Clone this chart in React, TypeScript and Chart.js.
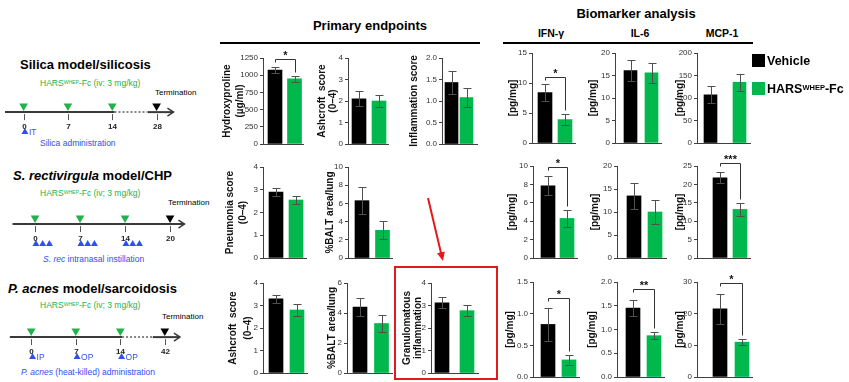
import React, { useEffect, useRef } from 'react';
import { Chart, registerables } from 'chart.js';
Chart.register(...registerables);

const FONT = '"Liberation Sans", Arial, Helvetica, sans-serif';
const VEHICLE_COLOR = '#000000';
const HARS_COLOR = '#00B84C';
const AXIS_COLOR = '#404040';
const TICK_COLOR = '#333333';
const ERR_COLOR = '#505050';
const TL_GREEN = '#22B24C';
const TL_BLUE = '#2F4FEF';
const RED = '#E3191C';

// ---------- groups ----------
const groups = ['Vehicle', 'HARS-WHEP-Fc'];

// ---------- Primary endpoints (mean, SEM) ----------
const hydroxyprolineSilica = [1075, 948];
const hydroxyprolineSilicaErr = [48, 45];
const hydroxyprolineSilicaSig = { label: '*', level: 1235 };

const ashcroftSilica = [2.1, 2.0];
const ashcroftSilicaErr = [0.35, 0.3];

const inflammationSilica = [1.43, 1.08];
const inflammationSilicaErr = [0.27, 0.22];

const pneumoniaChp = [2.9, 2.55];
const pneumoniaChpErr = [0.18, 0.18];

const baltChp = [6.3, 3.05];
const baltChpErr = [1.5, 1.0];

const ashcroftAcnes = [3.3, 2.8];
const ashcroftAcnesErr = [0.17, 0.25];

const baltAcnes = [4.4, 3.3];
const baltAcnesErr = [0.58, 0.57];

const granulomaAcnes = [3.12, 2.77];
const granulomaAcnesErr = [0.24, 0.24];

// ---------- Biomarkers (pg/mg) ----------
const ifnSilica = [8.4, 3.9];
const ifnSilicaErr = [1.4, 0.9];
const ifnSilicaSig = { label: '*', level: 11.05 };

const il6Silica = [16.1, 15.6];
const il6SilicaErr = [2.4, 2.2];

const mcpSilica = [107, 135];
const mcpSilicaErr = [19, 19];

const ifnChp = [7.85, 4.3];
const ifnChpErr = [1.05, 0.9];
const ifnChpSig = { label: '*', level: 9.9 };

const il6Chp = [13.5, 10.0];
const il6ChpErr = [2.8, 2.7];

const mcpChp = [21.8, 13.2];
const mcpChpErr = [1.5, 1.8];
const mcpChpSig = { label: '***', level: 25.7 };

const ifnAcnes = [0.83, 0.27];
const ifnAcnesErr = [0.26, 0.08];
const ifnAcnesSig = { label: '*', level: 1.24 };

const il6Acnes = [1.45, 0.87];
const il6AcnesErr = [0.17, 0.07];
const il6AcnesSig = { label: '**', level: 1.85 };

const mcpAcnes = [21.5, 11.0];
const mcpAcnesErr = [4.8, 0.9];
const mcpAcnesSig = { label: '*', level: 29.6 };

// ---------- Timelines ----------
const silicaDays = [0, 7, 14, 28];
const silicaTreatment = [0, 7, 14];
const silicaAdmin = [{ day: 0, label: 'IT' }];

const chpDays = [0, 7, 14, 20];
const chpTreatment = [0, 7, 14];
const chpAdmin = [0, 7, 14];

const acnesDays = [0, 7, 14, 42];
const acnesTreatment = [0, 7, 14];
const acnesAdmin = [
  { day: 0, label: 'IP' },
  { day: 7, label: 'OP' },
  { day: 14, label: 'OP' },
];

// ---------- panel definitions (data + layout) ----------
const panels = [
  { title: ['Hydroxyproline', '(µg/ml)'], values: hydroxyprolineSilica, errors: hydroxyprolineSilicaErr, yMax: 1250, yStep: 250, dec: 0, sig: hydroxyprolineSilicaSig,
    geo: { axisX: 263, axisEnd: 303, c1: 275, c2: 294.5, bw: 14, top: 58, bottom: 144, t1: 227, lh: 13 } },
  { title: ['Ashcroft  score', '(0–4)'], values: ashcroftSilica, errors: ashcroftSilicaErr, yMax: 4, yStep: 1, dec: 0,
    geo: { axisX: 348, axisEnd: 388, c1: 359, c2: 379, bw: 14, top: 58, bottom: 144, t1: 322, lh: 11 } },
  { title: ['Inflammation score'], values: inflammationSilica, errors: inflammationSilicaErr, yMax: 2, yStep: 0.5, dec: 1,
    geo: { axisX: 442, axisEnd: 477, c1: 451.5, c2: 466.5, bw: 13, top: 58, bottom: 144, t1: 414, lh: 12 } },
  { title: ['Pneumonia score', '(0–4)'], values: pneumoniaChp, errors: pneumoniaChpErr, yMax: 4, yStep: 1, dec: 0,
    geo: { axisX: 263, axisEnd: 306, c1: 276, c2: 296, bw: 14, top: 167, bottom: 258, t1: 230, lh: 13 } },
  { title: ['%BALT area/lung'], values: baltChp, errors: baltChpErr, yMax: 10, yStep: 2, dec: 0,
    geo: { axisX: 348, axisEnd: 392, c1: 362, c2: 382.5, bw: 14, top: 167, bottom: 258, t1: 330, lh: 12 } },
  { title: ['Ashcroft  score', '(0–4)'], values: ashcroftAcnes, errors: ashcroftAcnesErr, yMax: 4, yStep: 1, dec: 0,
    geo: { axisX: 263, axisEnd: 307, c1: 276, c2: 297, bw: 14, top: 283, bottom: 373, t1: 233, lh: 15 } },
  { title: ['%BALT area/lung'], values: baltAcnes, errors: baltAcnesErr, yMax: 6, yStep: 2, dec: 0,
    geo: { axisX: 347, axisEnd: 392, c1: 360, c2: 381.5, bw: 14, top: 283, bottom: 373, t1: 332, lh: 12 } },
  { title: ['Granulomatous', 'inflammation'], values: granulomaAcnes, errors: granulomaAcnesErr, yMax: 4, yStep: 1, dec: 0,
    geo: { axisX: 431, axisEnd: 478, c1: 442, c2: 467, bw: 14, top: 283, bottom: 373, t1: 407, lh: 11 } },

  { title: ['[pg/mg]'], values: ifnSilica, errors: ifnSilicaErr, yMax: 15, yStep: 5, dec: 0, sig: ifnSilicaSig,
    geo: { axisX: 532, axisEnd: 575, c1: 545, c2: 565, bw: 14, top: 53, bottom: 143, t1: 513, lh: 12 } },
  { title: ['[pg/mg]'], values: il6Silica, errors: il6SilicaErr, yMax: 20, yStep: 5, dec: 0,
    geo: { axisX: 615, axisEnd: 661, c1: 630.5, c2: 651.5, bw: 13, top: 53, bottom: 143, t1: 593, lh: 12 } },
  { title: ['[pg/mg]'], values: mcpSilica, errors: mcpSilicaErr, yMax: 200, yStep: 50, dec: 0,
    geo: { axisX: 697, axisEnd: 750, c1: 710.5, c2: 739.5, bw: 13, top: 53, bottom: 143, t1: 680, lh: 12 } },
  { title: ['[pg/mg]'], values: ifnChp, errors: ifnChpErr, yMax: 10, yStep: 2, dec: 0, sig: ifnChpSig,
    geo: { axisX: 533, axisEnd: 577, c1: 548, c2: 567, bw: 14, top: 166, bottom: 258, t1: 512, lh: 12 } },
  { title: ['[pg/mg]'], values: il6Chp, errors: il6ChpErr, yMax: 20, yStep: 5, dec: 0,
    geo: { axisX: 617, axisEnd: 666, c1: 634, c2: 655, bw: 14, top: 166, bottom: 258, t1: 595, lh: 12 } },
  { title: ['[pg/mg]'], values: mcpChp, errors: mcpChpErr, yMax: 25, yStep: 5, dec: 0, sig: mcpChpSig,
    geo: { axisX: 697, axisEnd: 750, c1: 720, c2: 740, bw: 14, top: 166, bottom: 258, t1: 680, lh: 12 } },
  { title: ['[pg/mg]'], values: ifnAcnes, errors: ifnAcnesErr, yMax: 1.5, yStep: 0.5, dec: 1, sig: ifnAcnesSig,
    geo: { axisX: 533, axisEnd: 579, c1: 548, c2: 569, bw: 14, top: 282, bottom: 377, t1: 510, lh: 12 } },
  { title: ['[pg/mg]'], values: il6Acnes, errors: il6AcnesErr, yMax: 2, yStep: 0.5, dec: 1, sig: il6AcnesSig,
    geo: { axisX: 617, axisEnd: 664, c1: 633, c2: 654, bw: 14, top: 282, bottom: 377, t1: 592, lh: 12 } },
  { title: ['[pg/mg]'], values: mcpAcnes, errors: mcpAcnesErr, yMax: 30, yStep: 10, dec: 0, sig: mcpAcnesSig,
    geo: { axisX: 697, axisEnd: 752, c1: 720, c2: 742, bw: 14, top: 282, bottom: 377, t1: 680, lh: 12 } },
];

const timelines = [
  { days: silicaDays, treatment: silicaTreatment, admin: silicaAdmin, triple: false,
    geo: { lineY: 110, origin: 19.5, spacing: 46.5, start: -0.42, end: 3.38, dotted: [2.05, 2.8] } },
  { days: chpDays, treatment: chpTreatment, admin: chpAdmin.map((d) => ({ day: d, label: '' })), triple: true,
    geo: { lineY: 222, origin: 31.5, spacing: 47.2, start: -0.5, end: 3.32, dotted: null } },
  { days: acnesDays, treatment: acnesTreatment, admin: acnesAdmin, triple: false,
    geo: { lineY: 335, origin: 27.5, spacing: 46.7, start: -0.48, end: 3.34, dotted: [2.04, 2.73] } },
];

function BarPanel({ p }: { p: any }) {
  const ref = useRef<HTMLCanvasElement | null>(null);
  const g = p.geo;
  const padT = 24, padB = 7, padR = 5;
  const left = Math.round(g.t1 - g.lh / 2);
  const yW = g.axisX - left;
  const width = Math.round(yW + (g.axisEnd - g.axisX) + padR);
  const height = Math.round(padT + (g.bottom - g.top) + padB);

  useEffect(() => {
    const s = g.c2 - g.c1;
    const xmin = -(g.c1 - g.axisX) / s;
    const xmax = 1 + (g.axisEnd - g.c2) / s;
    const plugin = {
      id: 'errbars',
      afterDatasetsDraw(chart: any) {
        const { ctx } = chart;
        const y = chart.scales.y;
        const meta = chart.getDatasetMeta(0);
        ctx.save();
        ctx.strokeStyle = ERR_COLOR;
        ctx.lineWidth = 1;
        const tops: number[] = [];
        const xs: number[] = [];
        meta.data.forEach((bar: any, i: number) => {
          const x = Math.round(bar.x) + 0.5;
          const yt = Math.round(y.getPixelForValue(p.values[i] + p.errors[i])) + 0.5;
          const yb = Math.round(y.getPixelForValue(p.values[i] - p.errors[i])) + 0.5;
          tops.push(yt);
          xs.push(x);
          ctx.beginPath();
          ctx.moveTo(x, yt); ctx.lineTo(x, yb);
          ctx.moveTo(x - 4, yt); ctx.lineTo(x + 4, yt);
          ctx.moveTo(x - 4, yb); ctx.lineTo(x + 4, yb);
          ctx.stroke();
        });
        if (p.sig) {
          const yl = Math.round(y.getPixelForValue(p.sig.level)) + 0.5;
          ctx.strokeStyle = '#333';
          ctx.beginPath();
          ctx.moveTo(xs[0], Math.min(tops[0] - 4, yl + 3));
          ctx.lineTo(xs[0], yl);
          ctx.lineTo(xs[1], yl);
          ctx.lineTo(xs[1], tops[1] - 4);
          ctx.stroke();
          ctx.fillStyle = '#111';
          ctx.font = `bold 11px ${FONT}`;
          ctx.textAlign = 'center';
          ctx.textBaseline = 'alphabetic';
          ctx.fillText(p.sig.label, (xs[0] + xs[1]) / 2, yl - 1);
        }
        ctx.restore();
      },
    };
    const chart = new Chart(ref.current as HTMLCanvasElement, {
      type: 'bar',
      data: {
        datasets: [
          {
            label: groups.join(' / '),
            data: p.values.map((v: number, i: number) => ({ x: i, y: v })),
            backgroundColor: [VEHICLE_COLOR, HARS_COLOR],
            barThickness: g.bw,
            borderWidth: 0,
          } as any,
        ],
      },
      options: {
        animation: false,
        responsive: false,
        events: [],
        layout: { padding: { top: padT, bottom: padB, left: 0, right: padR } },
        plugins: { legend: { display: false }, tooltip: { enabled: false } },
        scales: {
          x: {
            type: 'linear', min: xmin, max: xmax, offset: false,
            ticks: { display: false }, grid: { display: false },
            border: { display: true, color: AXIS_COLOR, width: 1 },
            afterFit: (sc: any) => { sc.height = 0; },
          },
          y: {
            type: 'linear', min: 0, max: p.yMax,
            ticks: {
              stepSize: p.yStep, autoSkip: false, color: TICK_COLOR,
              font: { family: FONT, size: 8 }, padding: 2,
              callback: (v: any) => Number(v).toFixed(p.dec),
            },
            grid: { drawOnChartArea: false, drawTicks: true, tickLength: 3, color: AXIS_COLOR },
            border: { display: true, color: AXIS_COLOR, width: 1 },
            title: {
              display: true, text: p.title, color: '#111',
              font: { family: FONT, size: 10, weight: 'bold', lineHeight: g.lh / 10 },
              padding: 0,
            },
            afterFit: (sc: any) => { sc.width = yW; },
          },
        },
      } as any,
      plugins: [plugin],
    });
    return () => chart.destroy();
  }, []);

  return (
    <canvas
      ref={ref}
      width={width}
      height={height}
      style={{ position: 'absolute', left, top: g.top - padT, width, height }}
    />
  );
}

function TimelineChart({ t }: { t: any }) {
  const ref = useRef<HTMLCanvasElement | null>(null);
  const g = t.geo;
  const width = 215, height = 52;
  const top = g.lineY - 15;

  useEffect(() => {
    const xmin = (0 - g.origin) / g.spacing;
    const xmax = (width - g.origin) / g.spacing;
    const slotOf = (d: number) => t.days.indexOf(d);
    const seg = (a: number, b: number, dash: boolean) => ({
      data: [{ x: a, y: 0 }, { x: b, y: 0 }],
      showLine: true,
      borderColor: dash ? '#888' : '#3a3a3a',
      borderWidth: 2,
      borderDash: dash ? [2, 2] : [],
      pointRadius: 0,
    });
    const segments = g.dotted
      ? [seg(g.start, g.dotted[0], false), seg(g.dotted[0], g.dotted[1], true), seg(g.dotted[1], g.end, false)]
      : [seg(g.start, g.end, false)];
    const adminPts: any[] = [];
    t.admin.forEach((a: any) => {
      const s = slotOf(a.day);
      if (t.triple) {
        [0.02, 0.17, 0.32].forEach((o) => adminPts.push({ x: s + o, y: -4.9 }));
      } else {
        adminPts.push({ x: s + 0.03, y: -4.9 });
      }
    });
    const plugin = {
      id: 'tl',
      afterDatasetsDraw(chart: any) {
        const { ctx } = chart;
        const xs = chart.scales.x, ys = chart.scales.y;
        const y0 = ys.getPixelForValue(0);
        ctx.save();
        ctx.strokeStyle = '#555';
        ctx.lineWidth = 1;
        ctx.fillStyle = '#222';
        ctx.font = `bold 8px ${FONT}`;
        ctx.textAlign = 'center';
        ctx.textBaseline = 'middle';
        t.days.forEach((d: number, i: number) => {
          const x = Math.round(xs.getPixelForValue(i)) + 0.5;
          ctx.beginPath();
          ctx.moveTo(x, y0 + 2);
          ctx.lineTo(x, y0 + 8);
          ctx.stroke();
          ctx.fillText(String(d), x, y0 + 15);
        });
        // arrow head
        const xe = xs.getPixelForValue(g.end);
        ctx.strokeStyle = '#3a3a3a';
        ctx.lineWidth = 1.5;
        ctx.beginPath();
        ctx.moveTo(xe - 6, y0 - 4);
        ctx.lineTo(xe, y0);
        ctx.lineTo(xe - 6, y0 + 4);
        ctx.stroke();
        // admin labels
        ctx.fillStyle = TL_BLUE;
        ctx.font = `8.5px ${FONT}`;
        ctx.textAlign = 'left';
        t.admin.forEach((a: any) => {
          if (!a.label) return;
          const x = xs.getPixelForValue(slotOf(a.day) + 0.03);
          ctx.fillText(a.label, x + 4, ys.getPixelForValue(-4.9) + 1);
        });
        ctx.restore();
      },
    };
    const chart = new Chart(ref.current as HTMLCanvasElement, {
      type: 'scatter',
      data: {
        datasets: [
          ...segments,
          {
            data: t.treatment.map((d: number) => ({ x: slotOf(d), y: 1.5 })),
            pointStyle: 'triangle', pointRotation: 180, pointRadius: 5,
            pointBackgroundColor: TL_GREEN, pointBorderWidth: 0, showLine: false,
          },
          {
            data: [{ x: t.days.length - 1, y: 1.5 }],
            pointStyle: 'triangle', pointRotation: 180, pointRadius: 5,
            pointBackgroundColor: '#000', pointBorderWidth: 0, showLine: false,
          },
          {
            data: adminPts,
            pointStyle: 'triangle', pointRotation: 0, pointRadius: 4,
            pointBackgroundColor: TL_BLUE, pointBorderWidth: 0, showLine: false,
          },
        ] as any,
      },
      options: {
        animation: false,
        responsive: false,
        events: [],
        layout: { padding: 0 },
        plugins: { legend: { display: false }, tooltip: { enabled: false } },
        scales: {
          x: { type: 'linear', display: false, min: xmin, max: xmax },
          y: { type: 'linear', display: false, min: -7.4, max: 3 },
        },
      } as any,
      plugins: [plugin],
    });
    return () => chart.destroy();
  }, []);

  return (
    <canvas
      ref={ref}
      width={width}
      height={height}
      style={{ position: 'absolute', left: 0, top, width, height }}
    />
  );
}

function T({ x, y, size, bold, color, center, children, italic }: any) {
  return (
    <div
      style={{
        position: 'absolute', left: x, top: y,
        transform: `translate(${center ? '-50%' : '0'}, -50%)`,
        fontSize: size, fontWeight: bold ? 'bold' : 'normal',
        fontStyle: italic ? 'italic' : 'normal',
        color: color || '#000', whiteSpace: 'nowrap', lineHeight: 1, fontFamily: FONT,
      }}
    >
      {children}
    </div>
  );
}

const Sup = ({ children }: any) => (
  <span style={{ fontSize: '0.6em', position: 'relative', top: '-0.45em' }}>{children}</span>
);

const Hars = ({ sep }: { sep: string }) => (
  <>
    HARS<Sup>WHEP</Sup>-Fc (iv{sep} 3 mg/kg)
  </>
);

export default function App() {
  return (
    <div
      style={{
        position: 'fixed', left: 0, top: 0, width: 849, height: 382,
        background: '#fff', overflow: 'hidden', fontFamily: FONT,
      }}
    >
      {/* timelines text */}
      <T x={20} y={64} size={13} bold>Silica model/silicosis</T>
      <T x={40} y={83} size={8.5} color={TL_GREEN}><Hars sep=":" /></T>
      <T x={155} y={93} size={8}>Termination</T>
      <T x={40} y={143} size={8.5} color={TL_BLUE}>Silica administration</T>

      <T x={13} y={175} size={13} bold><i>S. rectivirgula</i> model/CHP</T>
      <T x={40} y={193} size={8.5} color={TL_GREEN}><Hars sep=";" /></T>
      <T x={168} y={203} size={8}>Termination</T>
      <T x={43} y={259} size={8.5} color={TL_BLUE}><i>S. rec</i> intranasal instillation</T>

      <T x={8} y={288} size={13} bold><i>P. acnes</i> model/sarcoidosis</T>
      <T x={40} y={305} size={8.5} color={TL_GREEN}><Hars sep=";" /></T>
      <T x={162} y={317} size={8}>Termination</T>
      <T x={21} y={372} size={8.5} color={TL_BLUE}><i>P. acnes</i> (heat-killed) administration</T>

      {timelines.map((t, i) => (
        <TimelineChart key={'tl' + i} t={t} />
      ))}

      {/* headers */}
      <T x={370} y={25} size={13} bold center>Primary endpoints</T>
      <div style={{ position: 'absolute', left: 220, top: 42, width: 260, height: 2, background: '#000' }} />
      <T x={636} y={13} size={13} bold center>Biomarker analysis</T>
      <T x={551} y={33} size={10.5} bold center>IFN-γ</T>
      <T x={640} y={33} size={10.5} bold center>IL-6</T>
      <T x={722} y={33} size={10.5} bold center>MCP-1</T>
      <div style={{ position: 'absolute', left: 503, top: 42, width: 250, height: 2, background: '#000' }} />

      {panels.map((p, i) => (
        <BarPanel key={'p' + i} p={p} />
      ))}

      {/* legend */}
      <div style={{ position: 'absolute', left: 752, top: 54, width: 13, height: 13, background: VEHICLE_COLOR }} />
      <T x={767} y={61} size={12.5} bold>Vehicle</T>
      <div style={{ position: 'absolute', left: 752, top: 82, width: 13, height: 13, background: HARS_COLOR }} />
      <T x={767} y={89} size={12.5} bold>HARS<Sup>WHEP</Sup>-Fc</T>

      {/* annotations */}
      <div
        style={{
          position: 'absolute', left: 394, top: 266, width: 104, height: 114,
          border: `2px solid ${RED}`, boxSizing: 'border-box',
        }}
      />
      <svg width={849} height={382} style={{ position: 'absolute', left: 0, top: 0, pointerEvents: 'none' }}>
        <line x1={428} y1={198} x2={441} y2={253} stroke={RED} strokeWidth={2} />
        <polygon points="443,261 444.8,251.4 437,253.2" fill={RED} />
      </svg>
    </div>
  );
}
